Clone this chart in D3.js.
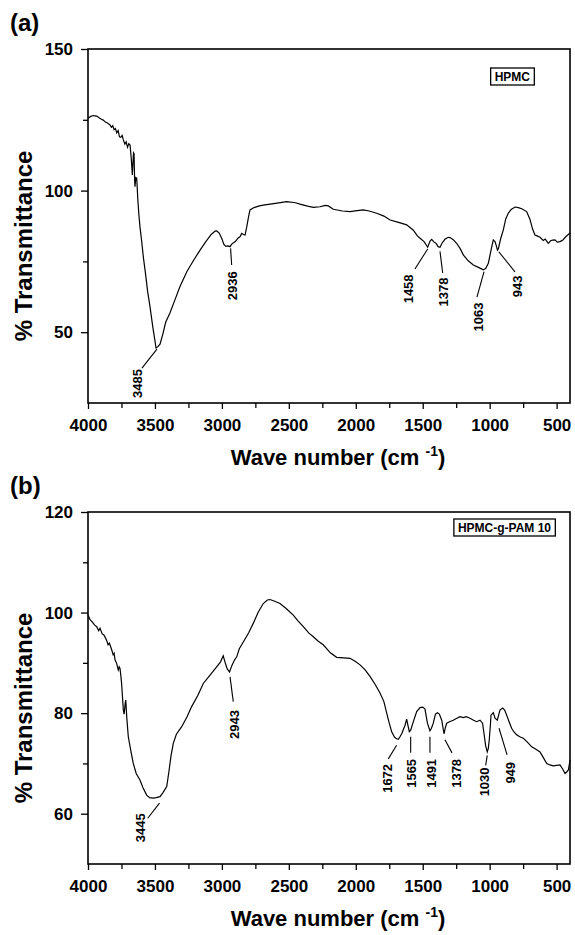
<!DOCTYPE html>
<html>
<head>
<meta charset="utf-8">
<script src="https://cdn.jsdelivr.net/npm/d3@7"></script>
<style>
  body { margin: 0; background: #fff; }
  text { font-family: "Liberation Sans", Arial, sans-serif; font-weight: bold; fill: #000; }
</style>
</head>
<body>
<div id="chart"></div>
<script>
// ---- (a) HPMC spectrum ----
const hpmcWave = [4000,3980,3960,3935,3915,3900,3886,3870,3855,3836,3825,3815,3805,3795,3785,3775,3765,3755,3745,3736,3725,3715,3705,3695,3686,3678,3672,3669,3664,3660,3656,3652,3649,3643,3636,3628,3620,3612,3600,3587,3570,3555,3537,3515,3500,3492,3480,3462,3440,3420,3388,3350,3313,3260,3210,3163,3120,3080,3050,3039,3020,3000,2985,2970,2955,2939,2925,2900,2880,2865,2852,2840,2827,2815,2800,2790,2760,2720,2691,2600,2516,2450,2417,2360,2317,2267,2230,2205,2168,2100,2043,1990,1944,1900,1844,1790,1744,1680,1620,1570,1540,1520,1490,1463,1445,1433,1415,1401,1385,1371,1355,1334,1310,1296,1270,1247,1220,1197,1160,1122,1080,1048,1030,1010,997,985,973,960,950,942,935,918,898,880,861,840,810,786,760,724,700,680,662,645,624,600,585,562,545,530,512,495,475,455,430,400]
const hpmcT = [125.5,126.2,126.5,126.3,125.6,125.2,124.9,124.2,123.9,123.2,122.4,122.9,121.5,121.9,120.4,121.2,119.0,118.8,119.5,117.9,116.4,117.2,115.3,116.6,116.1,112.0,108.0,105.5,110.0,113.3,113.0,104.0,101.4,104.6,104.4,97.0,91.5,87.3,82.5,76.7,70.5,64.5,59.0,51.5,47.0,44.4,44.8,45.8,49.5,53.5,56.8,61.5,66.1,71.5,75.5,79.0,82.0,84.5,85.7,85.8,85.0,83.0,81.0,80.3,80.5,80.2,81.2,82.0,83.2,83.7,84.9,84.5,84.3,87.0,91.0,93.2,94.0,94.6,94.9,95.5,96.1,95.7,95.2,94.5,94.1,94.3,94.8,94.6,93.4,92.8,92.6,92.9,93.2,92.8,92.0,91.0,89.6,88.8,87.9,86.0,84.0,83.2,82.0,80.0,82.2,82.8,81.8,81.4,80.2,80.0,81.5,82.8,83.5,83.4,82.6,81.4,79.5,77.3,75.2,73.7,72.8,72.0,72.5,74.3,77.3,80.0,82.6,82.0,80.5,79.0,79.5,83.0,86.1,90.0,92.0,93.3,94.2,94.0,93.6,92.6,90.0,86.5,84.3,84.0,83.5,82.4,82.9,81.4,82.3,82.5,82.6,81.8,82.0,82.5,83.8,85.0]

const hpmcLabels    = ["3485","2936","1458","1378","1063","943"]
const hpmcPeakWave  = [3485, 2935, 1463, 1371, 1042, 932]
const hpmcPeakT     = [44.0, 79.6, 79.4, 78.6, 71.4, 78.4]
const hpmcLineWave  = [3597, 2927, 1558, 1351, 1095, 811]
const hpmcLineT     = [37.3, 73.7, 72.3, 70.9, 62.4, 71.3]
const hpmcTextWave  = [3634, 2920, 1610, 1348, 1087, 796]
const hpmcTextT     = [37.0, 71.5, 70.4, 69.3, 60.5, 70.0]

// ---- (b) HPMC-g-PAM 10 spectrum ----
const pamWave = [4000,3985,3970,3950,3935,3920,3910,3895,3880,3861,3850,3840,3823,3812,3805,3798,3786,3774,3767,3761,3755,3749,3742,3736,3730,3722,3718,3710,3699,3680,3662,3640,3612,3590,3562,3540,3512,3490,3462,3440,3412,3395,3380,3363,3340,3300,3260,3226,3180,3139,3090,3039,3010,2990,2975,2960,2943,2925,2905,2889,2870,2839,2800,2765,2730,2691,2660,2641,2610,2566,2520,2467,2430,2392,2350,2317,2280,2243,2190,2143,2090,2043,2005,1968,1930,1894,1855,1819,1790,1769,1750,1732,1710,1695,1682,1670,1655,1644,1632,1620,1610,1600,1590,1570,1545,1520,1500,1483,1465,1446,1435,1421,1405,1390,1376,1358,1341,1330,1321,1300,1272,1245,1222,1197,1175,1147,1120,1097,1072,1053,1040,1030,1018,1010,1003,995,990,973,960,943,933,923,903,888,873,855,836,820,799,775,749,720,686,655,624,600,574,550,525,500,475,455,437,425,412,405,400]
const pamT = [99.5,98.6,98.2,97.5,97.2,96.4,96.9,95.8,95.5,94.5,93.6,93.9,92.6,91.6,91.9,90.6,89.9,88.6,89.2,88.9,87.5,85.9,83.0,80.6,79.8,82.0,82.6,79.0,75.3,72.5,70.0,68.0,66.7,65.2,63.7,63.2,63.1,63.2,63.4,64.2,65.4,68.5,71.5,74.0,75.8,77.3,79.3,81.3,83.5,85.9,87.5,89.2,90.2,91.4,90.0,88.8,88.2,89.5,90.6,91.2,92.8,94.2,96.0,97.9,100.0,101.8,102.5,102.6,102.3,101.8,100.8,99.5,98.3,97.2,95.9,95.2,94.3,93.6,92.0,91.1,91.0,90.9,90.3,89.6,88.6,87.3,85.7,84.0,82.3,80.0,78.0,76.3,75.2,74.9,74.8,75.3,76.0,76.8,77.6,78.8,77.5,76.3,76.6,78.3,80.3,81.1,81.2,80.8,78.0,76.5,77.0,78.0,79.8,80.1,79.8,78.6,75.9,77.2,78.0,78.3,78.6,79.0,79.3,79.1,79.3,79.0,78.6,78.3,78.6,78.0,75.5,73.5,72.3,73.0,74.7,77.5,79.6,80.1,79.0,78.6,79.6,80.6,81.0,80.6,79.6,78.3,77.0,76.3,75.7,75.3,75.0,74.3,73.3,72.8,72.3,71.2,70.0,69.7,69.5,69.6,69.7,68.9,68.0,68.3,68.7,69.8,70.7]

const pamLabels   = ["3445","2943","1672","1565","1491","1378","1030","949"]
const pamPeakWave = [3466, 2939, 1695, 1590, 1446, 1334, 1018, 930]
const pamPeakT    = [62.1, 87.2, 73.6, 75.3, 75.3, 74.7, 71.6, 77.0]
const pamLineWave = [3554, 2915, 1757, 1590, 1446, 1281, 1030, 870]
const pamLineT    = [59.1, 82.3, 70.9, 72.1, 72.1, 72.1, 69.6, 71.7]
const pamTextWave = [3612, 2908, 1760, 1582, 1438, 1251, 1040, 848]
const pamTextT    = [60.1, 80.6, 69.9, 70.9, 70.9, 70.9, 69.2, 70.3]

const xTicks = [4000, 3500, 3000, 2500, 2000, 1500, 1000, 500]
const xMinor = [3750, 3250, 2750, 2250, 1750, 1250, 750]

const width = 575, height = 935
const svg = d3.select("#chart").append("svg")
    .attr("width", width)
    .attr("height", height)

function drawPanel(p) {
    const left = 88, right = 570
    const x = d3.scaleLinear().domain([4000, 400]).range([left, right])
    const y = d3.scaleLinear().domain(p.yDomain).range([p.bottom, p.top])
    const g = svg.append("g")

    // panel letter
    g.append("text").attr("x", 10).attr("y", p.top - 18)
        .style("font-size", "24px").text(p.letter)

    // x axis, major + minor ticks
    g.append("g").attr("transform", `translate(0,${p.bottom})`)
        .call(d3.axisBottom(x).tickValues(xTicks).tickSize(6).tickPadding(10).tickFormat(d3.format("d")))
        .call(a => a.select(".domain").remove())
        .call(a => a.selectAll("text").style("font-size", "17px").style("font-family", "Liberation Sans, Arial, sans-serif").style("font-weight", "bold"))
    g.append("g").attr("transform", `translate(0,${p.bottom})`)
        .call(d3.axisBottom(x).tickValues(xMinor).tickSize(5).tickFormat(""))
        .call(a => a.select(".domain").remove())

    // y axis
    g.append("g").attr("transform", `translate(${left},0)`)
        .call(d3.axisLeft(y).tickValues(p.yTicks).tickSize(7).tickPadding(8))
        .call(a => a.select(".domain").remove())
        .call(a => a.selectAll("text").style("font-size", "17px").style("font-family", "Liberation Sans, Arial, sans-serif").style("font-weight", "bold"))
    g.append("g").attr("transform", `translate(${left},0)`)
        .call(d3.axisLeft(y).tickValues(p.yMinor).tickSize(5).tickFormat(""))
        .call(a => a.select(".domain").remove())
    g.selectAll(".tick line").attr("stroke", "#000").attr("stroke-width", 1.3)

    // frame
    g.append("rect").attr("x", left).attr("y", p.top)
        .attr("width", right - left).attr("height", p.bottom - p.top)
        .attr("fill", "none").attr("stroke", "#000").attr("stroke-width", 1.6)

    // spectrum
    const pts = p.wave.map((w, i) => [w, p.trans[i]])
    g.append("path").datum(pts)
        .attr("fill", "none").attr("stroke", "#000").attr("stroke-width", 1.2)
        .attr("d", d3.line().x(d => x(d[0])).y(d => y(d[1])))

    // peak labels
    p.labels.forEach((lab, i) => {
        g.append("line")
            .attr("x1", x(p.peakWave[i])).attr("y1", y(p.peakT[i]))
            .attr("x2", x(p.lineWave[i])).attr("y2", y(p.lineT[i]))
            .attr("stroke", "#000").attr("stroke-width", 1.1)
        g.append("text")
            .attr("transform", `translate(${x(p.textWave[i])},${y(p.textT[i])}) rotate(-90)`)
            .attr("text-anchor", "end").attr("dy", "0.35em")
            .style("font-size", "13px").text(lab)
    })

    // legend box
    const lt = g.append("text").attr("x", p.legendRight - 5).attr("y", p.legendTop + 13)
        .attr("text-anchor", "end").style("font-size", "12px").text(p.legend)
    const bb = lt.node().getBBox()
    g.insert("rect", "text")
        .attr("x", bb.x - 4).attr("y", p.legendTop)
        .attr("width", bb.width + 8).attr("height", 17)
        .attr("fill", "#fff").attr("stroke", "#000").attr("stroke-width", 1.3)

    // axis titles
    const xt = g.append("text").attr("x", 338).attr("y", p.bottom + 62)
        .attr("text-anchor", "middle").style("font-size", "22px")
    xt.append("tspan").text("Wave number (cm ")
    xt.append("tspan").attr("dy", -9).style("font-size", "14px").text("-1")
    xt.append("tspan").attr("dy", 9).text(")")

    g.append("text")
        .attr("transform", `translate(32,${(p.top + p.bottom) / 2 + 20}) rotate(-90)`)
        .attr("text-anchor", "middle").style("font-size", "24px")
        .text("% Transmittance")
}

drawPanel({
    letter: "(a)", top: 49, bottom: 403,
    yDomain: [25, 150], yTicks: [50, 100, 150], yMinor: [75, 125],
    wave: hpmcWave, trans: hpmcT,
    labels: hpmcLabels, peakWave: hpmcPeakWave, peakT: hpmcPeakT,
    lineWave: hpmcLineWave, lineT: hpmcLineT, textWave: hpmcTextWave, textT: hpmcTextT,
    legend: "HPMC", legendRight: 535, legendTop: 68
})

drawPanel({
    letter: "(b)", top: 512, bottom: 864,
    yDomain: [50, 120], yTicks: [60, 80, 100, 120], yMinor: [70, 90, 110],
    wave: pamWave, trans: pamT,
    labels: pamLabels, peakWave: pamPeakWave, peakT: pamPeakT,
    lineWave: pamLineWave, lineT: pamLineT, textWave: pamTextWave, textT: pamTextT,
    legend: "HPMC-g-PAM 10", legendRight: 556, legendTop: 519
})
</script>
</body>
</html>
